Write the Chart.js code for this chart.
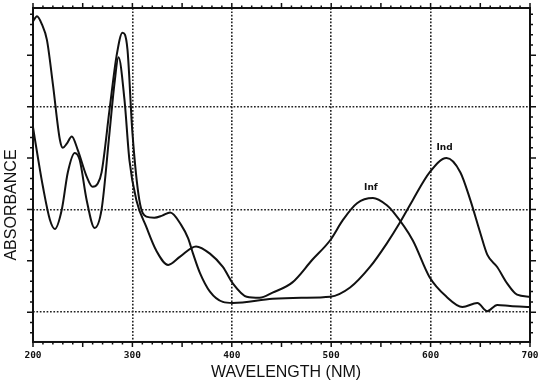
<!DOCTYPE html>
<html>
<head>
<meta charset="utf-8">
<script src="https://cdn.jsdelivr.net/npm/chart.js@4.4.0/dist/chart.umd.min.js"></script>
<style>
  html, body { margin: 0; padding: 0; background: #fff; }
</style>
</head>
<body>
<canvas id="spectrum" width="540" height="384"></canvas>
<script>
// Series names (also used as the peak labels)
const seriesNames = ['Ind', 'Inf'];

// Ind spectrum: wavelength (nm) and absorbance
const indWavelength = [200, 204, 209, 214, 220, 227, 230, 234, 239, 245, 254, 260, 265, 269, 277, 284, 290, 295, 300, 307, 314, 322, 330, 338, 349, 356, 361, 368, 378, 391, 401, 441, 470, 499, 519, 539, 556, 569, 582, 599, 616, 630, 640, 650, 657, 667, 677, 687, 700];
const indAbsorbance = [2.83, 2.88, 2.80, 2.65, 2.22, 1.68, 1.60, 1.64, 1.71, 1.58, 1.32, 1.22, 1.25, 1.36, 1.97, 2.49, 2.72, 2.56, 1.75, 1.09, 0.93, 0.92, 0.94, 0.97, 0.85, 0.72, 0.57, 0.38, 0.20, 0.10, 0.09, 0.13, 0.14, 0.15, 0.24, 0.44, 0.67, 0.87, 1.09, 1.36, 1.50, 1.36, 1.09, 0.77, 0.56, 0.44, 0.28, 0.17, 0.15];

// Inf spectrum
const infWavelength = [200, 205, 210, 217, 222, 229, 235, 242, 247, 254, 262, 269, 277, 282, 286, 292, 297, 304, 314, 324, 336, 348, 364, 378, 391, 401, 415, 428, 441, 461, 481, 499, 512, 526, 542, 556, 562, 582, 599, 616, 632, 647, 657, 667, 680, 700];
const infAbsorbance = [1.80, 1.50, 1.22, 0.90, 0.81, 1.00, 1.36, 1.55, 1.48, 1.09, 0.82, 1.00, 1.75, 2.23, 2.48, 2.07, 1.48, 1.09, 0.83, 0.60, 0.46, 0.54, 0.64, 0.57, 0.44, 0.28, 0.15, 0.14, 0.19, 0.29, 0.51, 0.70, 0.90, 1.06, 1.11, 1.04, 0.98, 0.70, 0.34, 0.15, 0.05, 0.09, 0.01, 0.07, 0.06, 0.05];

// Axis ticks
const xTickLabels = [200, 300, 400, 500, 600, 700];
const yGridValues = [0, 1, 2];

const toPoints = (xs, ys) => xs.map((v, i) => ({ x: v, y: ys[i] }));

// frame, tick marks, axis titles and peak labels
const frameTicks = {
    id: 'frameTicks',
    afterDatasetsDraw(chart) {
        const { ctx, chartArea: a, scales: { x, y } } = chart;
        ctx.save();
        ctx.strokeStyle = '#111';
        ctx.lineWidth = 2;
        ctx.strokeRect(a.left, a.top, a.right - a.left, a.bottom - a.top);

        ctx.lineWidth = 1.5;
        ctx.beginPath();
        for (let w = x.min; w <= x.max; w += 10) {
            const px = x.getPixelForValue(w);
            const len = w % 50 === 0 ? 5 : 2.5;
            ctx.moveTo(px, a.bottom); ctx.lineTo(px, a.bottom + len);
            ctx.moveTo(px, a.top); ctx.lineTo(px, a.top - len);
        }
        for (let i = Math.ceil(y.min * 10); i <= Math.floor(y.max * 10); i++) {
            const py = y.getPixelForValue(i / 10);
            const len = i % 5 === 0 ? 6 : 3;
            ctx.moveTo(a.left, py); ctx.lineTo(a.left - len, py);
            ctx.moveTo(a.right, py); ctx.lineTo(a.right + len, py);
        }
        ctx.stroke();

        // axis titles
        ctx.fillStyle = '#111';
        ctx.font = '16px "Liberation Sans"';
        ctx.textAlign = 'center';
        ctx.textBaseline = 'middle';
        ctx.fillText('WAVELENGTH (NM)', 286, 373);
        ctx.save();
        ctx.translate(12, 205);
        ctx.rotate(-Math.PI / 2);
        ctx.fillText('ABSORBANCE', 0, 0);
        ctx.restore();

        // peak labels in the visible region
        ctx.font = 'bold 9px "DejaVu Sans"';
        ctx.textBaseline = 'bottom';
        chart.data.datasets.forEach(ds => {
            let best = null;
            ds.data.forEach(p => {
                if (p.x > 450 && (!best || p.y > best.y)) best = p;
            });
            ctx.fillText(ds.label, x.getPixelForValue(best.x) - 2, y.getPixelForValue(best.y) - 6);
        });
        ctx.restore();
    }
};

const lineStyle = {
    borderColor: '#111',
    borderWidth: 2,
    pointRadius: 0,
    fill: false,
    cubicInterpolationMode: 'monotone'
};

new Chart(document.getElementById('spectrum').getContext('2d'), {
    type: 'line',
    data: {
        datasets: [
            { label: seriesNames[0], data: toPoints(indWavelength, indAbsorbance), ...lineStyle },
            { label: seriesNames[1], data: toPoints(infWavelength, infAbsorbance), ...lineStyle }
        ]
    },
    options: {
        responsive: false,
        animation: false,
        devicePixelRatio: 1,
        layout: { padding: { left: 33, right: 10, top: 8, bottom: 14 } },
        plugins: {
            legend: { display: false },
            tooltip: { enabled: false }
        },
        scales: {
            x: {
                type: 'linear',
                min: 200,
                max: 700,
                afterBuildTicks: axis => { axis.ticks = xTickLabels.map(v => ({ value: v })); },
                grid: {
                    drawTicks: false,
                    lineWidth: 1.6,
                    color: c => (c.tick && c.tick.value > 200 && c.tick.value < 700) ? '#222' : 'rgba(0,0,0,0)'
                },
                border: { display: false, dash: [1.7, 1.7] },
                ticks: {
                    padding: 0,
                    color: '#111',
                    maxRotation: 0,
                    font: { family: '"DejaVu Sans Mono"', size: 9.5, weight: 'bold', lineHeight: 2.95 }
                }
            },
            y: {
                type: 'linear',
                min: -0.29,
                max: 2.96,
                afterBuildTicks: axis => { axis.ticks = yGridValues.map(v => ({ value: v })); },
                grid: { drawTicks: false, lineWidth: 1.6, color: '#222' },
                border: { display: false, dash: [1.7, 1.7] },
                ticks: { display: false }
            }
        }
    },
    plugins: [frameTicks]
});
</script>
</body>
</html>
